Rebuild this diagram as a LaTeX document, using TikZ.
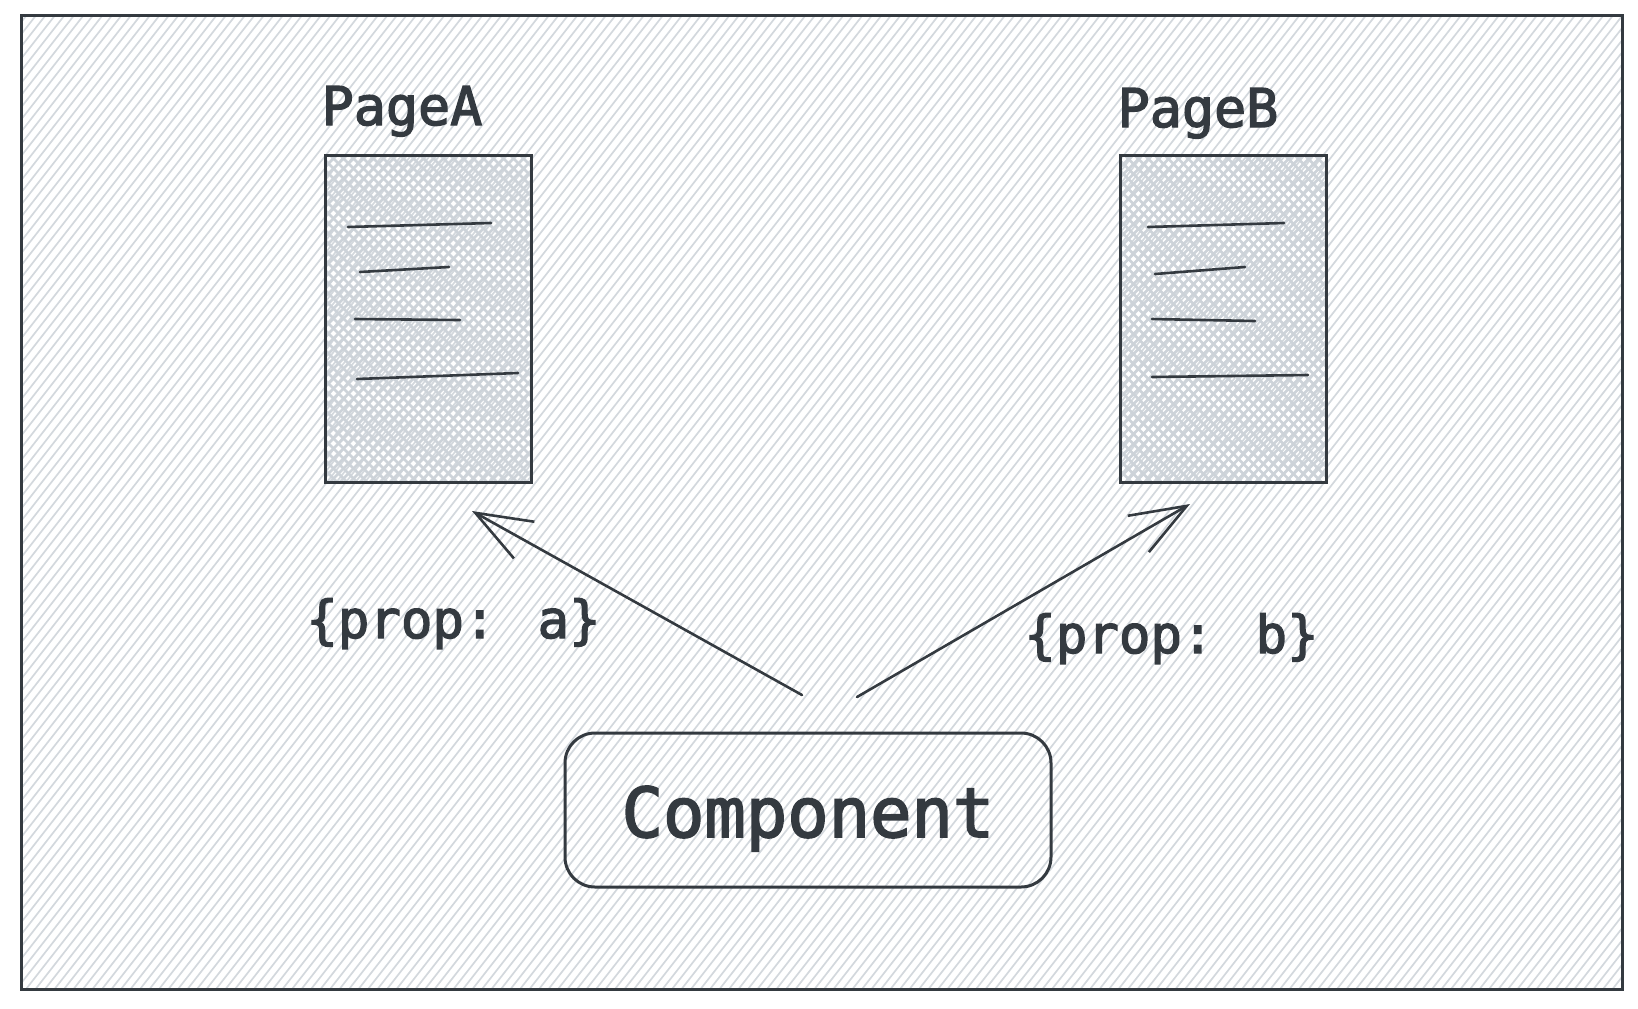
\documentclass[tikz,border=0pt]{standalone}
\usepackage{fontspec}
\newfontfamily\codefont[FakeBold=2.5]{DejaVu Sans Mono}
\usetikzlibrary{arrows.meta,calc}
\definecolor{ink}{HTML}{343A40}
\definecolor{bghatch}{HTML}{D3D8DD}
\definecolor{xhatchc}{HTML}{CDD3D9}
\begin{document}
\begin{tikzpicture}[x=0.5pt,y=-0.5pt,
  bgline/.style={draw=bghatch,line width=0.85pt},
  xh/.style={draw=xhatchc,line width=1.3pt},
  frame/.style={draw=ink,line width=1.5pt},
  pagebox/.style={draw=ink,line width=1.5pt,inner sep=0pt,
    minimum width=103pt,minimum height=163.5pt,
    path picture={
      \foreach \i in {-345,-335,...,225}{
        \draw[xh] ($(path picture bounding box.south west)+(\i,0)$) -- ++(345,-345);
        \draw[xh] ($(path picture bounding box.north west)+(\i,0)$) -- ++(345,345);
      }}},
  pagelabel/.style={anchor=base,inner sep=0pt,text=ink,font=\codefont\fontsize{26.7pt}{30pt}\selectfont},
  proplabel/.style={anchor=base,inner sep=0pt,text=ink,font=\codefont\fontsize{26.2pt}{30pt}\selectfont},
  compbox/.style={draw=ink,line width=1.5pt,rounded corners=15pt,
    minimum width=243pt,minimum height=77pt,inner sep=0pt,
    text=ink,font=\codefont\fontsize{34.4pt}{40pt}\selectfont,
    text height=27pt,text depth=0pt},
  textline/.style={draw=ink,line width=1.3pt,line cap=round},
  conn/.style={draw=ink,line width=1.3pt,line cap=round,
    -{Straight Barb[length=28pt,width=21pt,line width=1.3pt]}}
]
\useasboundingbox (0,0) rectangle (1638,1008);
% background hachure
\begin{scope}
  \clip (21,15) rectangle (1622,989);
  \foreach \i in {-790,-780.5,...,1640}
    \draw[bgline] (\i,1000) -- ++(781,-1000);
\end{scope}
\draw[frame] (21,15) rectangle (1622,989);

% pages
\node[pagebox] (boxA) at (428,318.5) {};
\node[pagebox] (boxB) at (1223,319) {};
\node[pagelabel] (labA) at (402,125) {PageA};
\node[pagelabel] (labB) at (1198,127) {PageB};

% text lines in pages
\draw[textline] (348,227) -- (491,223);
\draw[textline] (360,272) -- (449,267);
\draw[textline] (355,319) -- (460,320);
\draw[textline] (357,379) -- (518,373);
\draw[textline] (1148,227) -- (1284,223);
\draw[textline] (1155,274) -- (1245,267);
\draw[textline] (1152,319) -- (1255,321);
\draw[textline] (1152,377) -- (1308,375);

% component
\node[compbox] (comp) at (808,810) {Component};

% props
\node[proplabel] (propA) at (453.5,638) {\{prop: a\}};
\node[proplabel] (propB) at (1171.5,653) {\{prop: b\}};

% arrows
\coordinate (tailA) at (802,695);
\coordinate (tipA) at (472,511);
\coordinate (tailB) at (857,697);
\coordinate (tipB) at (1190,504);
\draw[conn] (tailA) -- (tipA);
\draw[conn] (tailB) -- (tipB);
\end{tikzpicture}
\end{document}
